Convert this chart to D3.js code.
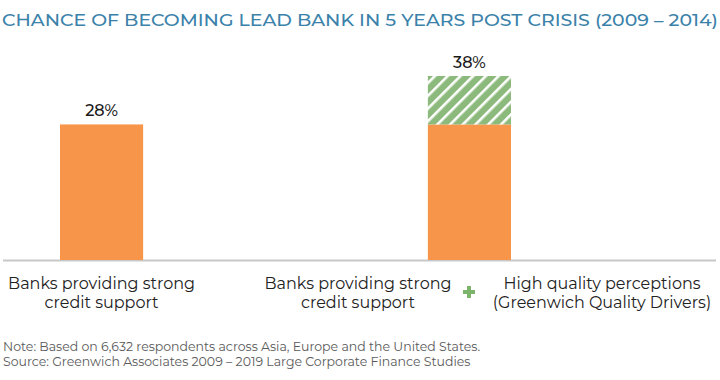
<!DOCTYPE html>
<html>
<head>
<meta charset="utf-8">
<script src="https://cdn.jsdelivr.net/npm/d3@7"></script>
<style>
  body { margin: 0; background: #fff; }
  svg { display: block; font-family: "Montserrat", "Lato", "Open Sans", sans-serif; }
</style>
</head>
<body>
<svg id="chart" width="720" height="380"></svg>
<script>
// chart data
var categories = ["credit", "creditPlusQuality"];
var creditValues = [28, 28];
var qualityValues = [0, 10];
var totalLabels = ["28%", "38%"];
var titleText = "CHANCE OF BECOMING LEAD BANK IN 5 YEARS POST CRISIS (2009 \u2013 2014)";
var noteLines = [
  "Note: Based on 6,632 respondents across Asia, Europe and the United States.",
  "Source: Greenwich Associates 2009 \u2013 2019 Large Corporate Finance Studies"
];

var orange = "#f7964a";
var green = "#8cba7c";

var svg = d3.select("#chart");

// hatch pattern for the quality increment
var defs = svg.append("defs");
var pat = defs.append("pattern")
    .attr("id", "hatch")
    .attr("patternUnits", "userSpaceOnUse")
    .attr("width", 9)
    .attr("height", 9)
    .attr("patternTransform", "rotate(45)");
pat.append("rect").attr("width", 9).attr("height", 9).attr("fill", green);
pat.append("rect").attr("x", 0).attr("width", 2.6).attr("height", 9).attr("fill", "#fff");

// title
svg.append("text")
    .attr("x", 2)
    .attr("y", 26)
    .attr("fill", "#3b82aa")
    .attr("font-size", 17)
    .attr("font-weight", 500)
    .attr("textLength", 716)
    .attr("lengthAdjust", "spacingAndGlyphs")
    .text(titleText);

// scales
var baseline = 260;
var x = d3.scaleBand()
    .domain(categories)
    .range([60, 511])
    .paddingInner(0.774)
    .paddingOuter(0);
var y = d3.scaleLinear()
    .domain([0, 38])
    .range([baseline, 76]);

// baseline axis
svg.append("line")
    .attr("x1", 3).attr("x2", 716)
    .attr("y1", baseline + 0.5).attr("y2", baseline + 0.5)
    .attr("stroke", "#c8c8c8")
    .attr("stroke-width", 2);

// credit support bars
svg.selectAll(".credit-bar")
    .data(categories)
    .enter().append("rect")
    .attr("class", "credit-bar")
    .attr("x", d => x(d))
    .attr("width", x.bandwidth())
    .attr("y", (d, i) => y(creditValues[i]))
    .attr("height", (d, i) => baseline - y(creditValues[i]))
    .attr("fill", orange);

// quality increment (hatched)
svg.selectAll(".quality-bar")
    .data(categories.filter((d, i) => qualityValues[i] > 0))
    .enter().append("rect")
    .attr("class", "quality-bar")
    .attr("x", d => x(d))
    .attr("width", x.bandwidth())
    .attr("y", d => {
        var i = categories.indexOf(d);
        return y(creditValues[i] + qualityValues[i]);
    })
    .attr("height", d => {
        var i = categories.indexOf(d);
        return y(creditValues[i]) - y(creditValues[i] + qualityValues[i]);
    })
    .attr("fill", "url(#hatch)");

// value labels
svg.selectAll(".value-label")
    .data(categories)
    .enter().append("text")
    .attr("class", "value-label")
    .attr("x", d => x(d) + x.bandwidth() / 2)
    .attr("y", (d, i) => y(creditValues[i] + qualityValues[i]) - 8)
    .attr("text-anchor", "middle")
    .attr("font-size", 16)
    .attr("font-weight", 500)
    .attr("fill", "#1a1a1a")
    .text((d, i) => totalLabels[i]);

// category labels
function twoLines(cx, lines) {
    var t = svg.append("text")
        .attr("text-anchor", "middle")
        .attr("font-size", 16)
        .attr("fill", "#222");
    lines.forEach((l, i) => {
        t.append("tspan").attr("x", cx).attr("y", 289 + i * 19).text(l);
    });
}
twoLines(x(categories[0]) + x.bandwidth() / 2, ["Banks providing strong", "credit support"]);
twoLines(358, ["Banks providing strong", "credit support"]);
twoLines(602, ["High quality perceptions", "(Greenwich Quality Drivers)"]);

// plus sign
var plus = svg.append("g").attr("transform", "translate(469,292)");
plus.append("rect").attr("x", -6).attr("y", -2).attr("width", 12).attr("height", 4).attr("fill", "#7db46c");
plus.append("rect").attr("x", -2).attr("y", -6).attr("width", 4).attr("height", 12).attr("fill", "#7db46c");

// notes
svg.selectAll(".note")
    .data(noteLines)
    .enter().append("text")
    .attr("class", "note")
    .attr("x", 3)
    .attr("y", (d, i) => 351 + i * 15)
    .attr("font-size", 12.5)
    .attr("fill", "#5a5a5a")
    .text(d => d);
</script>
</body>
</html>
